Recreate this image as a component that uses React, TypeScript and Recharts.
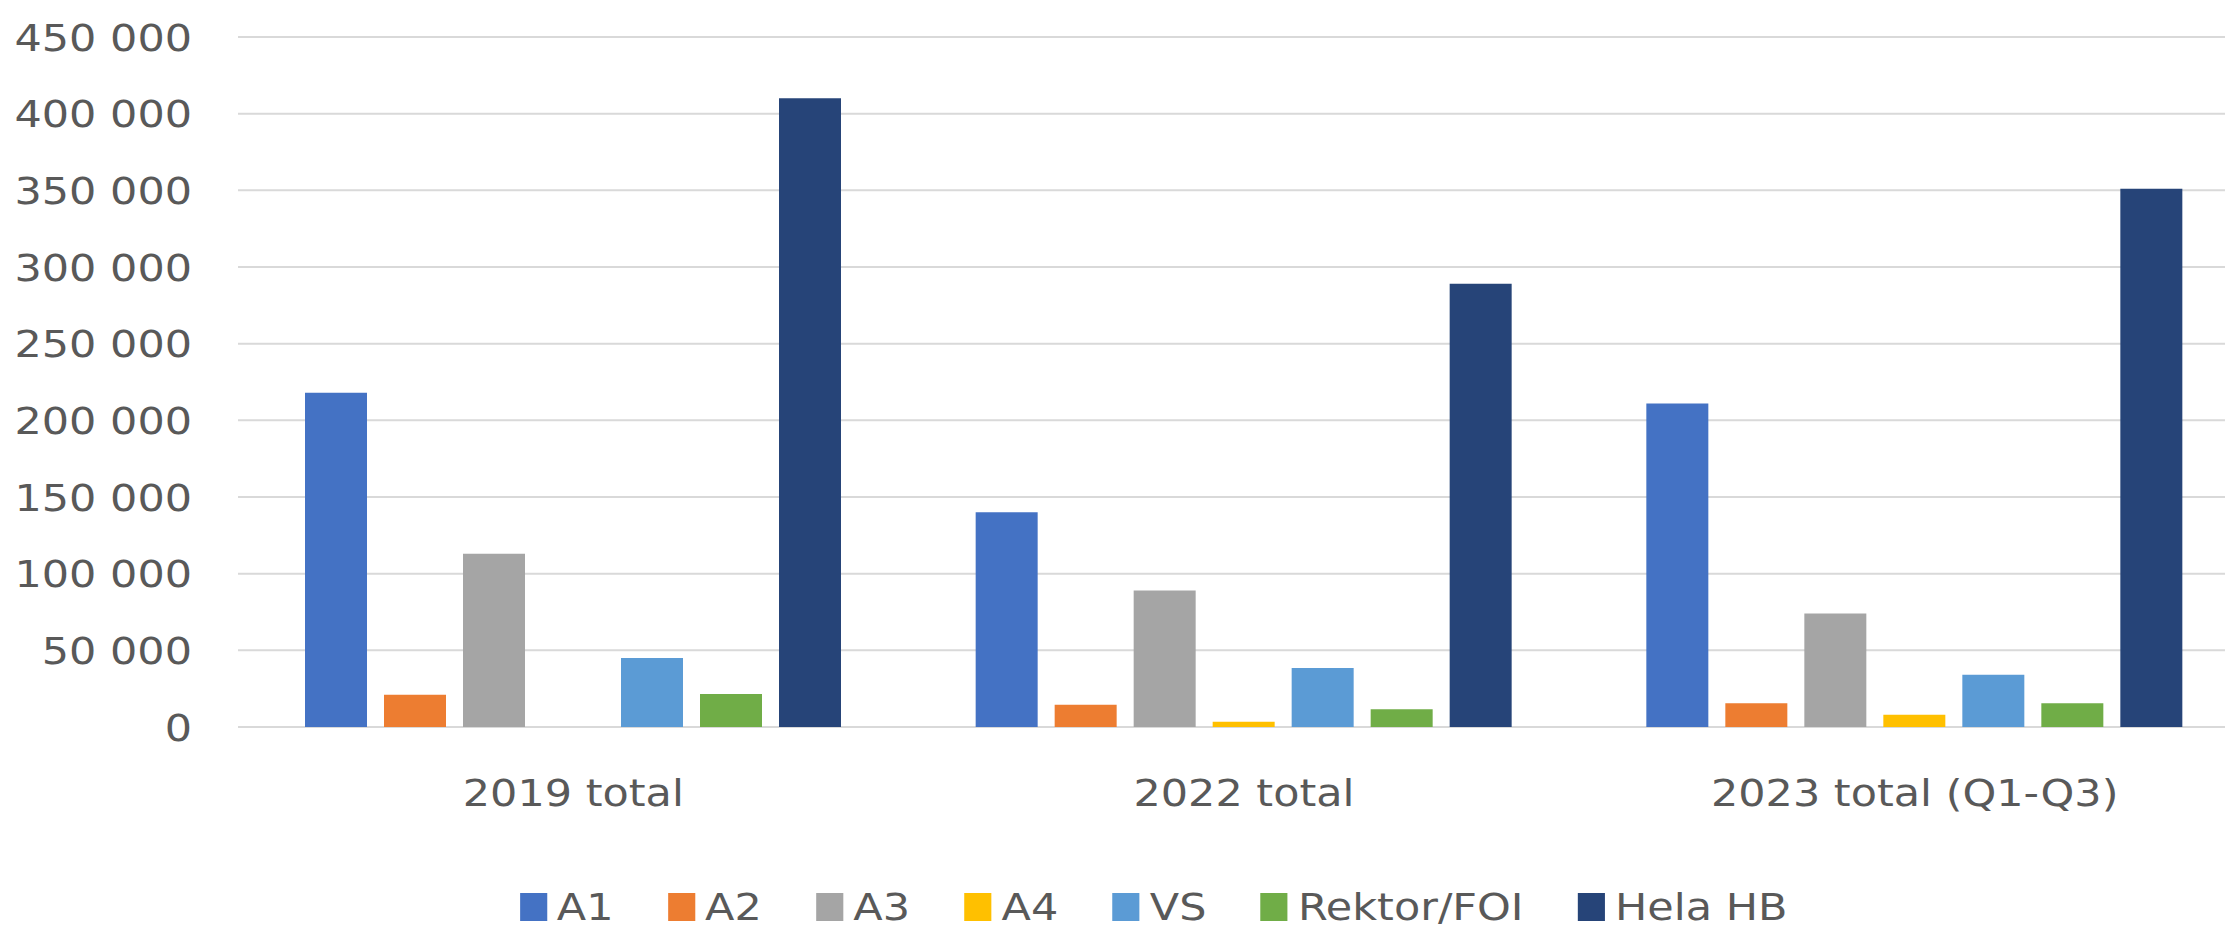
import { BarChart, Bar, XAxis, YAxis, CartesianGrid, Legend } from 'recharts';

const categories = ['2019 total', '2022 total', '2023 total (Q1-Q3)'];

const a1 = [218000, 140000, 211000];
const a2 = [21000, 14500, 15500];
const a3 = [113000, 89000, 74000];
const a4 = [0, 3500, 8000];
const vs = [45000, 38500, 34000];
const rektorFoi = [21500, 11500, 15500];
const helaHb = [410000, 289000, 351000];

const seriesNames = ['A1', 'A2', 'A3', 'A4', 'VS', 'Rektor/FOI', 'Hela HB'];
const seriesValues = [a1, a2, a3, a4, vs, rektorFoi, helaHb];
const COLORS = ['#4472C4', '#ED7D31', '#A5A5A5', '#FFC000', '#5B9BD5', '#70AD47', '#264478'];

const yTicks = [0, 50000, 100000, 150000, 200000, 250000, 300000, 350000, 400000, 450000];

const FONT = 'DejaVu Sans';
const FONT_SIZE = 38;
const TEXT_COLOR = '#595959';
const STRETCH = 1.13;

const data = categories.map((name, i) => {
  const row: Record<string, string | number> = { name };
  seriesValues.forEach((vals, j) => {
    row[`s${j}`] = vals[i];
  });
  return row;
});

const fmt = (v: number) => v.toString().replace(/\B(?=(\d{3})+(?!\d))/g, ' ');

function YTick({ x, y, payload }: any) {
  return (
    <g transform={`translate(${x},${y}) scale(${STRETCH},1)`}>
      <text textAnchor="end" dy="0.36em" fill={TEXT_COLOR} fontSize={FONT_SIZE} fontFamily={FONT}>
        {fmt(payload.value)}
      </text>
    </g>
  );
}

function XTick({ x, y, payload }: any) {
  return (
    <g transform={`translate(${x},${y + 63}) scale(${STRETCH},1)`}>
      <text textAnchor="middle" dy="0.36em" fill={TEXT_COLOR} fontSize={FONT_SIZE} fontFamily={FONT}>
        {payload.value}
      </text>
    </g>
  );
}

function LegendRow() {
  return (
    <div
      style={{
        width: 2225,
        height: 54,
        display: 'flex',
        justifyContent: 'center',
        alignItems: 'center',
        transform: `translateX(41px) scaleX(${STRETCH})`,
      }}
    >
      {seriesNames.map((n, i) => (
        <div key={n} style={{ display: 'flex', alignItems: 'center', margin: '0 24px' }}>
          <span style={{ width: 24, height: 28, background: COLORS[i], marginRight: 9, display: 'inline-block' }} />
          <span style={{ fontFamily: FONT, fontSize: FONT_SIZE, color: TEXT_COLOR, lineHeight: '54px' }}>{n}</span>
        </div>
      ))}
    </div>
  );
}

export default function App() {
  return (
    <div
      style={{
        position: 'fixed',
        left: 0,
        top: 0,
        width: 2225,
        height: 934,
        overflow: 'hidden',
        background: '#fff',
      }}
    >
      <BarChart
        width={2260}
        height={934}
        data={data}
        margin={{ top: 37, right: 10, left: 0, bottom: 0 }}
        barCategoryGap={67}
        barGap={17}
      >
        <CartesianGrid vertical={false} stroke="#d9d9d9" strokeWidth={2} />
        <XAxis
          dataKey="name"
          axisLine={false}
          tickLine={false}
          tickSize={0}
          height={153}
          tick={<XTick />}
        />
        <YAxis
          width={238}
          domain={[0, 450000]}
          ticks={yTicks}
          axisLine={false}
          tickLine={false}
          tickSize={0}
          tickMargin={46}
          tick={<YTick />}
        />
        <Legend
          verticalAlign="bottom"
          content={<LegendRow />}
          wrapperStyle={{ left: 0, width: 2225, height: 54, bottom: 0 }}
        />
        {seriesNames.map((n, j) => (
          <Bar key={n} dataKey={`s${j}`} name={n} fill={COLORS[j]} isAnimationActive={false} />
        ))}
      </BarChart>
    </div>
  );
}
